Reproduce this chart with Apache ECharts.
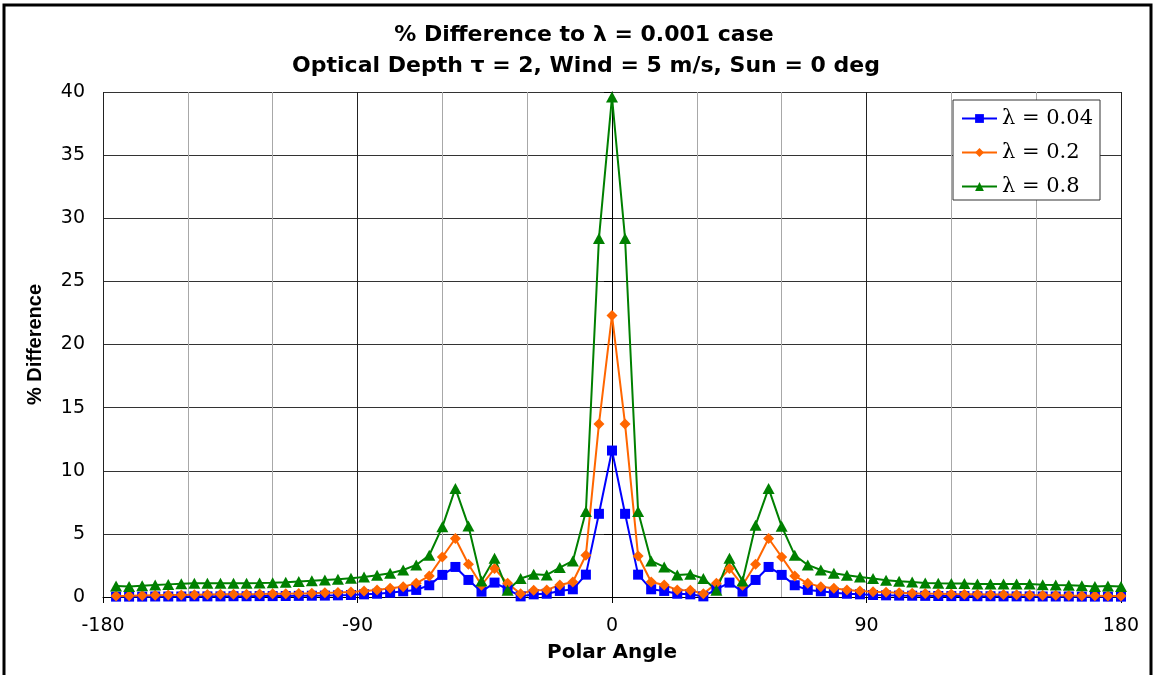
<!DOCTYPE html>
<html>
<head>
<meta charset="utf-8">
<title>% Difference to λ = 0.001 case</title>
<script src="https://cdn.jsdelivr.net/npm/echarts@6/dist/echarts.min.js"></script>
<style>
  html, body { margin: 0; padding: 0; background: #fff; }
  #chart { width: 1156px; height: 675px; }
</style>
</head>
<body>
<div id="chart"></div>
<script>
// polar angles (deg) of the sample points
const angles = [
  -175.38, -170.77, -166.15, -161.54, -156.92, -152.31, -147.69, -143.08, -138.46, -133.85,
  -129.23, -124.62, -120.00, -115.38, -110.77, -106.15, -101.54, -96.92, -92.31, -87.69,
  -83.08, -78.46, -73.85, -69.23, -64.62, -60.00, -55.38, -50.77, -46.15, -41.54,
  -36.92, -32.31, -27.69, -23.08, -18.46, -13.85, -9.23, -4.62, 0,
  4.62, 9.23, 13.85, 18.46, 23.08, 27.69, 32.31, 36.92, 41.54, 46.15,
  50.77, 55.38, 60.00, 64.62, 69.23, 73.85, 78.46, 83.08, 87.69, 92.31,
  96.92, 101.54, 106.15, 110.77, 115.38, 120.00, 124.62, 129.23, 133.85, 138.46,
  143.08, 147.69, 152.31, 156.92, 161.54, 166.15, 170.77, 175.38, 180.00
]

// lambda = 0.04
const diff004 = [
  0.03, 0.03, 0.03, 0.04, 0.04, 0.04, 0.05, 0.05, 0.05, 0.06,
  0.06, 0.07, 0.07, 0.08, 0.09, 0.10, 0.11, 0.13, 0.16, 0.21,
  0.26, 0.34, 0.45, 0.56, 0.93, 1.75, 2.38, 1.35, 0.42, 1.14,
  0.61, 0.05, 0.21, 0.26, 0.48, 0.61, 1.77, 6.59, 11.6,
  6.59, 1.77, 0.61, 0.48, 0.26, 0.21, 0.05, 0.61, 1.14, 0.42,
  1.35, 2.38, 1.75, 0.93, 0.56, 0.45, 0.34, 0.26, 0.21, 0.16,
  0.13, 0.11, 0.10, 0.09, 0.08, 0.07, 0.07, 0.06, 0.06, 0.05,
  0.05, 0.05, 0.04, 0.04, 0.04, 0.03, 0.03, 0.03, 0.03
]

// lambda = 0.2
const diff02 = [
  0.08, 0.09, 0.11, 0.13, 0.15, 0.16, 0.18, 0.20, 0.21, 0.21,
  0.22, 0.23, 0.25, 0.26, 0.28, 0.30, 0.33, 0.36, 0.40, 0.48,
  0.56, 0.69, 0.82, 1.08, 1.67, 3.17, 4.63, 2.59, 0.93, 2.25,
  1.08, 0.26, 0.53, 0.56, 0.95, 1.19, 3.31, 13.7, 22.3,
  13.7, 3.25, 1.19, 0.95, 0.56, 0.53, 0.26, 1.08, 2.25, 0.93,
  2.59, 4.63, 3.17, 1.67, 1.08, 0.82, 0.69, 0.56, 0.48, 0.42,
  0.37, 0.34, 0.30, 0.27, 0.25, 0.23, 0.22, 0.21, 0.20, 0.19,
  0.17, 0.15, 0.14, 0.13, 0.11, 0.10, 0.09, 0.08, 0.08
]

// lambda = 0.8
const diff08 = [
  0.87, 0.84, 0.90, 0.95, 1.00, 1.05, 1.08, 1.08, 1.08, 1.09,
  1.09, 1.10, 1.12, 1.16, 1.22, 1.28, 1.34, 1.41, 1.48, 1.59,
  1.72, 1.88, 2.14, 2.54, 3.31, 5.56, 8.60, 5.63, 1.27, 3.07,
  0.53, 1.46, 1.80, 1.75, 2.33, 2.86, 6.77, 28.4, 39.6,
  28.4, 6.77, 2.86, 2.38, 1.75, 1.80, 1.46, 0.53, 3.07, 1.27,
  5.69, 8.60, 5.60, 3.31, 2.54, 2.14, 1.88, 1.72, 1.59, 1.46,
  1.32, 1.24, 1.19, 1.11, 1.08, 1.06, 1.06, 1.03, 1.03, 1.03,
  1.03, 1.03, 0.98, 0.95, 0.93, 0.90, 0.84, 0.87, 0.84
]

const seriesNames = ['λ = 0.04', 'λ = 0.2', 'λ = 0.8']
const seriesColors = ['#0000ff', '#ff6600', '#008000']
const xTicks = [-180, -90, 0, 90, 180]

function pairs(vals) {
  return angles.map((a, i) => [a, vals[i]])
}

const chart = echarts.init(document.getElementById('chart'))

const option = {
  animation: false,
  backgroundColor: '#fff',
  graphic: [
    {
      type: 'rect',
      shape: { x: 4, y: 5, width: 1147, height: 700 },
      style: { fill: 'none', stroke: '#000', lineWidth: 3 },
      silent: true
    },
    {
      type: 'text', x: 584, y: 35,
      style: {
        text: '% Difference to λ = 0.001 case',
        fontFamily: 'DejaVu Sans', fontWeight: 'bold', fontSize: 22,
        fill: '#000', align: 'center', verticalAlign: 'middle'
      }
    },
    {
      type: 'text', x: 586, y: 66,
      style: {
        text: 'Optical Depth τ = 2, Wind = 5 m/s, Sun = 0 deg',
        fontFamily: 'DejaVu Sans', fontWeight: 'bold', fontSize: 22,
        fill: '#000', align: 'center', verticalAlign: 'middle'
      }
    }
  ],
  legend: {
    orient: 'vertical',
    left: 953,
    top: 100,
    data: seriesNames,
    itemWidth: 35,
    itemHeight: 11,
    itemGap: 13,
    padding: [8, 7, 3, 8],
    borderColor: '#333',
    borderWidth: 1,
    backgroundColor: '#fff',
    textStyle: { fontFamily: 'DejaVu Serif', fontSize: 21, color: '#000' }
  },
  grid: { left: 103, right: 35, top: 92, bottom: 78 },
  xAxis: {
    type: 'value',
    min: -180,
    max: 180,
    interval: 90,
    name: 'Polar Angle',
    nameLocation: 'middle',
    nameGap: 46,
    nameTextStyle: { fontFamily: 'DejaVu Sans', fontWeight: 'bold', fontSize: 20, color: '#000' },
    axisLine: { onZero: false, lineStyle: { color: '#000', width: 1 } },
    axisTick: { show: true, length: 6, lineStyle: { color: '#000' } },
    axisLabel: {
      margin: 20,
      fontFamily: 'DejaVu Sans', fontSize: 19, color: '#000',
      formatter: v => xTicks.includes(v) ? String(v) : ''
    },
    splitLine: { show: true, lineStyle: { color: '#222', width: 1 } },
    minorTick: { show: false, splitNumber: 3 },
    minorSplitLine: { show: true, lineStyle: { color: '#a8a8a8', width: 1 } }
  },
  yAxis: {
    type: 'value',
    min: 0,
    max: 40,
    interval: 5,
    name: '% Difference',
    nameLocation: 'middle',
    nameGap: 58,
    nameTextStyle: { fontFamily: 'Liberation Sans', fontWeight: 'bold', fontSize: 20, color: '#000' },
    axisLine: { show: true, lineStyle: { color: '#000', width: 1 } },
    axisTick: { show: true, length: 8, lineStyle: { color: '#000' } },
    axisLabel: { margin: 18, fontFamily: 'DejaVu Sans', fontSize: 19, color: '#000' },
    splitLine: { show: true, lineStyle: { color: '#333', width: 1 } }
  },
  series: [
    {
      name: seriesNames[0],
      type: 'line',
      data: pairs(diff004),
      symbol: 'rect',
      symbolSize: 10,
      color: seriesColors[0],
      lineStyle: { width: 2, color: seriesColors[0] },
      itemStyle: { color: seriesColors[0] }
    },
    {
      name: seriesNames[1],
      type: 'line',
      data: pairs(diff02),
      symbol: 'diamond',
      symbolSize: [11, 11],
      color: seriesColors[1],
      lineStyle: { width: 2, color: seriesColors[1] },
      itemStyle: { color: seriesColors[1] }
    },
    {
      name: seriesNames[2],
      type: 'line',
      data: pairs(diff08),
      symbol: 'triangle',
      symbolSize: [12, 11],
      color: seriesColors[2],
      lineStyle: { width: 2, color: seriesColors[2] },
      itemStyle: { color: seriesColors[2] }
    }
  ]
}

chart.setOption(option)
</script>
</body>
</html>
